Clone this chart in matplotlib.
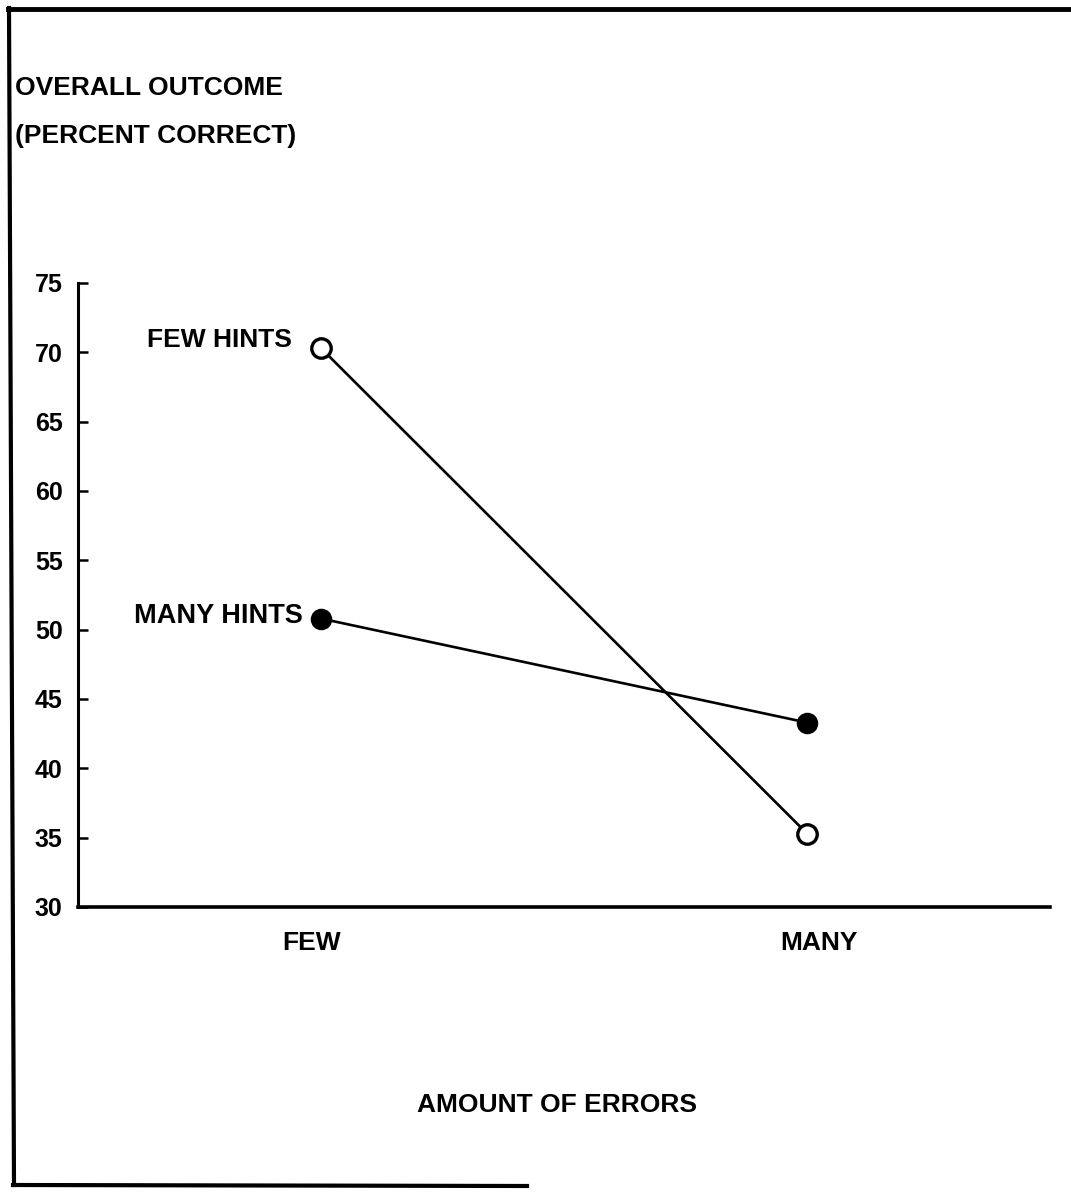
import matplotlib
matplotlib.use("Agg")
import matplotlib.pyplot as plt
from matplotlib.lines import Line2D
from matplotlib.transforms import ScaledTranslation

categories = ["FEW", "MANY"]
few_hints = [70.3, 35.3]
many_hints = [50.8, 43.3]
series_labels = ["FEW HINTS", "MANY HINTS"]
yticks = [30, 35, 40, 45, 50, 55, 60, 65, 70, 75]

plt.rcParams['font.family'] = ['Liberation Sans', 'DejaVu Sans']
plt.rcParams['font.weight'] = 'bold'

W, H = 1071, 1194
fig = plt.figure(figsize=(W / 100, H / 100), dpi=100)
fig.patch.set_facecolor("white")

def fx(px):
    return px / W

def fy(py):
    return 1 - py / H

ax = fig.add_axes([fx(78), fy(907), fx(1050) - fx(78), fy(283) - fy(907)])
x = list(range(len(categories)))

ax.plot(x, few_hints, color="black", lw=1.9, marker="o", ms=14,
        mfc="white", mec="black", mew=2.4, zorder=3)
ax.plot(x, many_hints, color="black", lw=1.9, marker="o", ms=14,
        mfc="black", mec="black", mew=1.5, zorder=3)

ax.set_xlim(-0.5, 1.5)
ax.set_ylim(30, 75)
ax.set_yticks(yticks)
ax.set_yticklabels([str(v) for v in yticks], fontsize=18, fontweight="bold")
ax.tick_params(axis="y", direction="in", length=7, width=1.8, pad=11)
ax.set_xticks(x)
ax.set_xticklabels(categories, fontsize=19, fontweight="bold")
ax.tick_params(axis="x", length=0, pad=17)
offsets_px = [-9, 12]
for lab, dx in zip(ax.get_xticklabels(), offsets_px):
    lab.set_transform(lab.get_transform() +
                      ScaledTranslation(dx / 100, 0, fig.dpi_scale_trans))
for s in ["top", "right"]:
    ax.spines[s].set_visible(False)
ax.spines["left"].set_linewidth(2.2)
ax.spines["bottom"].set_linewidth(2.6)

# series labels next to the first points
ax.annotate(series_labels[0], (x[0], few_hints[0]), xytext=(-21, 6),
            textcoords="offset points", ha="right", va="center",
            fontsize=19, fontweight="bold")
ax.annotate(series_labels[1], (x[0], many_hints[0]), xytext=(-13, 1.5),
            textcoords="offset points", ha="right", va="center",
            fontsize=19.5, fontweight="bold")

# axis titles
fig.text(fx(15), fy(88), "OVERALL OUTCOME", ha="left", va="center",
         fontsize=19, fontweight="bold")
fig.text(fx(15), fy(136), "(PERCENT CORRECT)", ha="left", va="center",
         fontsize=19, fontweight="bold")
fig.text(fx(557), fy(1105), "AMOUNT OF ERRORS", ha="center", va="center",
         fontsize=19, fontweight="bold")

# page border
fig.add_artist(Line2D([fx(8), fx(1071)], [fy(9), fy(9)], color="black", lw=3.5))
fig.add_artist(Line2D([fx(9), fx(14)], [fy(8), fy(1185)], color="black", lw=3))
fig.add_artist(Line2D([fx(13), fx(527)], [fy(1185), fy(1186)], color="black", lw=3))

fig.savefig("out.png", dpi=100, facecolor="white")
